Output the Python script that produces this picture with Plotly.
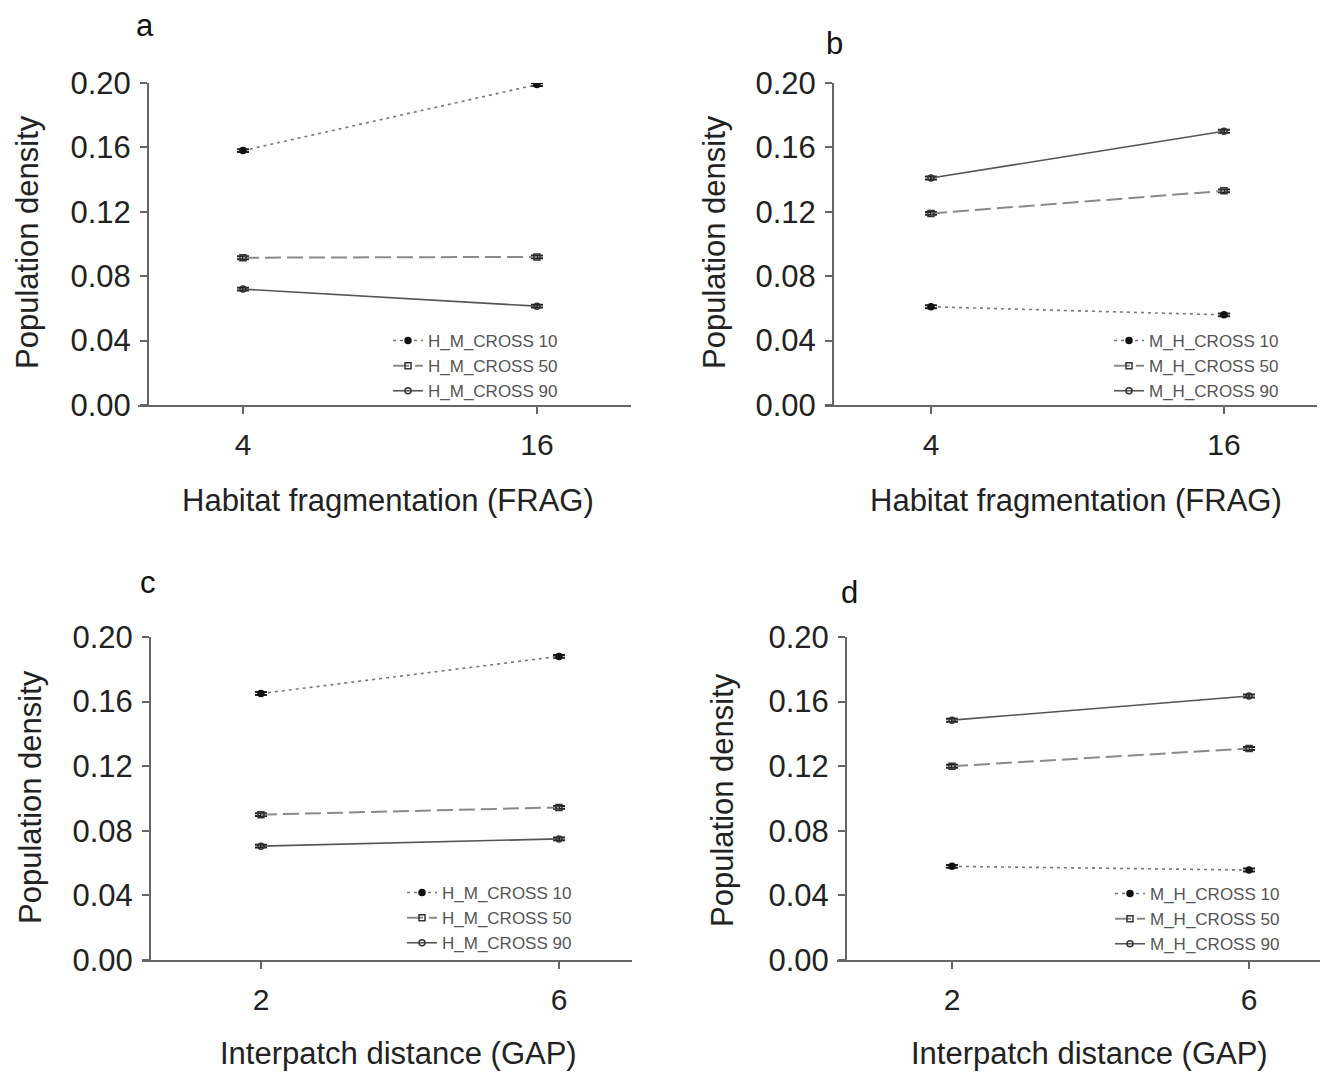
import plotly.graph_objects as go

W, H = 1331, 1073
OFF = 8  # page body margin

# ---------------- data ----------------
frag_x = [4, 16]
gap_x = [2, 6]

a_cross10 = [0.158, 0.199]
a_cross50 = [0.0915, 0.092]
a_cross90 = [0.072, 0.0614]

b_cross10 = [0.061, 0.056]
b_cross50 = [0.119, 0.133]
b_cross90 = [0.141, 0.170]

c_cross10 = [0.165, 0.188]
c_cross50 = [0.090, 0.0945]
c_cross90 = [0.0705, 0.075]

d_cross10 = [0.058, 0.0557]
d_cross50 = [0.120, 0.131]
d_cross90 = [0.1485, 0.1635]

err = [0.0009, 0.0009]

names_hm = ["H_M_CROSS 10", "H_M_CROSS 50", "H_M_CROSS 90"]
names_mh = ["M_H_CROSS 10", "M_H_CROSS 50", "M_H_CROSS 90"]

y_ticks = [0.00, 0.04, 0.08, 0.12, 0.16, 0.20]
y_ticktext = ["0.00", "0.04", "0.08", "0.12", "0.16", "0.20"]

# ---------------- style ----------------
FONT = "Liberation Sans, Arial, sans-serif"
styles = [
    dict(dash="3px,4px", color="#777777", width=1.6, symbol="circle", mcolor="#111111", mfill="#111111"),
    dict(dash="16px,6px", color="#8a8a8a", width=2.0, symbol="square-open", mcolor="#333333", mfill="#333333"),
    dict(dash="solid", color="#555555", width=1.6, symbol="circle-open", mcolor="#333333", mfill="#333333"),
]

fig = go.Figure()

panels = [
    dict(x=frag_x, ys=[a_cross10, a_cross50, a_cross90], names=names_hm, ax="x", ay="y", leg="legend"),
    dict(x=frag_x, ys=[b_cross10, b_cross50, b_cross90], names=names_mh, ax="x2", ay="y2", leg="legend2"),
    dict(x=gap_x, ys=[c_cross10, c_cross50, c_cross90], names=names_hm, ax="x3", ay="y3", leg="legend3"),
    dict(x=gap_x, ys=[d_cross10, d_cross50, d_cross90], names=names_mh, ax="x4", ay="y4", leg="legend4"),
]

for p in panels:
    for ys, nm, st in zip(p["ys"], p["names"], styles):
        fig.add_trace(go.Scatter(
            x=p["x"], y=ys, name=nm, mode="lines+markers",
            xaxis=p["ax"], yaxis=p["ay"], legend=p["leg"],
            line=dict(color=st["color"], width=st["width"], dash=st["dash"]),
            marker=dict(symbol=st["symbol"], size=6, color=st["mfill"],
                        line=dict(color=st["mcolor"], width=1.5)),
            error_y=dict(type="data", array=err, visible=True, color="#222222",
                         thickness=2, width=6),
        ))

def px_x(v):
    return (v - OFF) / W

def px_y(v):
    return 1 - (v - OFF) / H

axis_common = dict(showgrid=False, zeroline=False, showline=True, linecolor="#666666",
                   linewidth=2, ticks="outside", ticklen=7, tickwidth=2, tickcolor="#666666",
                   automargin=False)

# panel geometry (pixels): x-line start, x-line end, y-axis x, top, bottom, x range
geo = [
    dict(x0=138, x1=631, yx=148, top=83, bot=405, xr=[-0.286, 19.84], xt=frag_x,
         xtitle="Habitat fragmentation (FRAG)", xtpos=(388, 500), ytpos=(28, 242)),
    dict(x0=825, x1=1317, yx=833, top=83, bot=405, xr=[-0.34, 19.81], xt=frag_x,
         xtitle="Habitat fragmentation (FRAG)", xtpos=(1076, 500), ytpos=(715, 242)),
    dict(x0=142, x1=632, yx=150, top=637, bot=960, xr=[0.403, 6.98], xt=gap_x,
         xtitle="Interpatch distance (GAP)", xtpos=(398, 1053), ytpos=(30, 797)),
    dict(x0=837, x1=1320, yx=846, top=637, bot=960, xr=[0.451, 6.956], xt=gap_x,
         xtitle="Interpatch distance (GAP)", xtpos=(1089, 1053), ytpos=(722, 800)),
]

layout = {}
annots = []
for i, g in enumerate(geo):
    sfx = "" if i == 0 else str(i + 1)
    layout["xaxis" + sfx] = dict(
        axis_common, domain=[px_x(g["x0"]), px_x(g["x1"])], range=g["xr"],
        anchor="y" + sfx, tickvals=g["xt"], ticklabelstandoff=5,
        tickfont=dict(family=FONT, size=30, color="#222222"),
    )
    layout["yaxis" + sfx] = dict(
        axis_common, domain=[px_y(g["bot"]), px_y(g["top"])], range=[0, 0.2],
        anchor="free", position=px_x(g["yx"]), tickvals=y_ticks, ticktext=y_ticktext,
        ticklabelstandoff=3,
        tickfont=dict(family=FONT, size=31, color="#222222"),
    )
    annots.append(dict(text=g["xtitle"], x=px_x(g["xtpos"][0]), y=px_y(g["xtpos"][1]),
                       xref="paper", yref="paper", showarrow=False,
                       xanchor="center", yanchor="middle",
                       font=dict(family=FONT, size=31, color="#222222")))
    annots.append(dict(text="Population density", x=px_x(g["ytpos"][0]), y=px_y(g["ytpos"][1]),
                       xref="paper", yref="paper", showarrow=False, textangle=-90,
                       xanchor="center", yanchor="middle",
                       font=dict(family=FONT, size=31, color="#222222")))

leg_common = dict(font=dict(family=FONT, size=17, color="#555555"), bgcolor="rgba(0,0,0,0)",
                  xanchor="right", yanchor="bottom", tracegroupgap=0, itemwidth=30)
layout["legend"] = dict(leg_common, x=px_x(563), y=px_y(409))
layout["legend2"] = dict(leg_common, x=px_x(1284), y=px_y(409))
layout["legend3"] = dict(leg_common, x=px_x(577), y=px_y(961))
layout["legend4"] = dict(leg_common, x=px_x(1285), y=px_y(962))

for lab, lx, ly in [("a", 145, 26), ("b", 834, 43), ("c", 148, 582), ("d", 849, 592)]:
    annots.append(dict(text=lab, x=px_x(lx), y=px_y(ly), xref="paper", yref="paper",
                       showarrow=False, xanchor="center", yanchor="middle",
                       font=dict(family=FONT, size=31, color="#111111")))

fig.update_layout(
    width=W, height=H, margin=dict(l=0, r=0, t=0, b=0, autoexpand=False),
    paper_bgcolor="white", plot_bgcolor="white", showlegend=True,
    annotations=annots, **layout,
)

fig.write_html("out.html")
